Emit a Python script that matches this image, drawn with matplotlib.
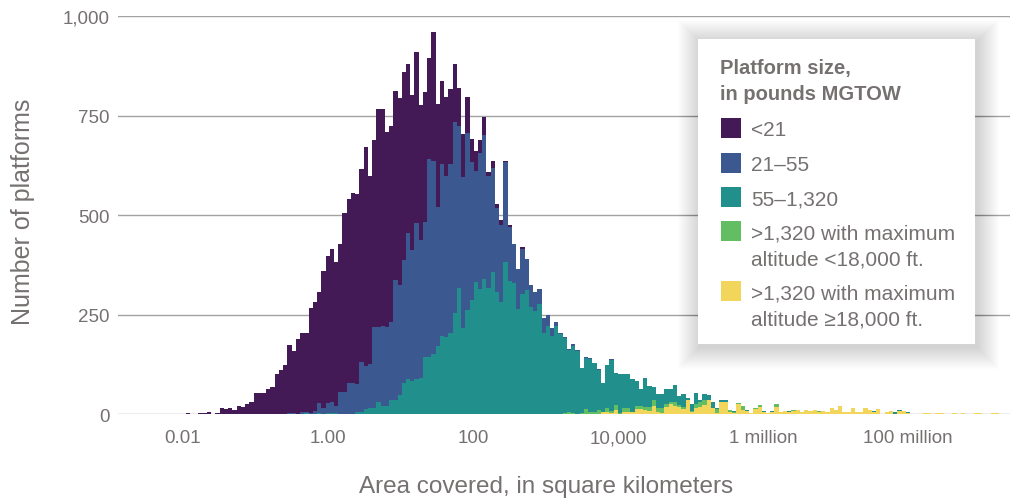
import numpy as np
import matplotlib.pyplot as plt
from matplotlib.patches import Rectangle

W, H = 1035, 502
plt.rcParams['font.family'] = ['Liberation Sans', 'DejaVu Sans']

# histogram bins, in log10 of square kilometers
N_BINS = 200
LOG_LO, LOG_HI = -2.43, 9.255

# counts per bin for each weight class, each list starts at its *_START bin
PURPLE_START = 0
purple = [1, 1, 0, 1, 1, 0, 0, 1, 3, 1,
          1, 3, 3, 5, 1, 3, 15, 13, 15, 10,
          20, 18, 24, 29, 54, 53, 54, 63, 68, 100,
          109, 123, 171, 157, 188, 200, 197, 265, 275, 279,
          345, 369, 386, 362, 371, 449, 462, 477, 478, 485,
          551, 473, 470, 548, 544, 490, 493, 475, 469, 473,
          425, 389, 430, 338, 326, 253, 324, 258, 209, 197,
          189, 145, 96, 107, 90, 59, 49, 32, 45, 9,
          18, 10, 11, 4, 4, 0, 0, 4, 0]

BLUE_START = 30
blue = [1, 0, 2, 1, 0, 3, 4, 1, 6, 25,
        14, 25, 27, 19, 55, 55, 77, 77, 71, 127,
        108, 110, 202, 189, 201, 199, 196, 303, 277, 309,
        366, 330, 392, 348, 341, 499, 484, 349, 431, 406,
        424, 480, 407, 380, 445, 346, 280, 342, 362, 283,
        262, 211, 195, 251, 138, 99, 100, 113, 77, 56,
        46, 38, 36, 30, 20, 10, 3, 4, 2, 3,
        2, 1, 1, 2, 1, 1, 0, 1, 1, 0,
        1, 1, 0, 1, 0, 1, 1, 0, 1, 0,
        0, 1, 0, 1, 0, 1]

TEAL_START = 30
teal = [0, 1, 0, 1, 0, 1, 2, 1, 1, 2,
        1, 2, 2, 2, 1, 1, 1, 1, 4, 4,
        13, 16, 16, 29, 21, 19, 34, 34, 48, 78,
        88, 82, 88, 90, 142, 142, 152, 172, 197, 193,
        204, 254, 316, 216, 261, 286, 331, 314, 339, 316,
        356, 307, 281, 381, 333, 328, 264, 302, 312, 268,
        260, 276, 204, 220, 197, 220, 200, 188, 157, 170,
        158, 113, 128, 134, 122, 101, 74, 109, 128, 80,
        97, 86, 86, 82, 62, 42, 72, 53, 32, 36,
        36, 38, 32, 42, 21, 32, 6, 17, 28, 7,
        16, 14, 17, 2, 6, 6, 0, 3, 0, 1,
        1, 0, 1, 0, 1, 0, 1, 0, 1, 0,
        1, 0, 0, 1, 0, 0, 1, 0, 0, 1,
        0, 0, 1, 0, 0, 1, 0, 0, 1, 0,
        1, 0, 0, 1, 0, 3, 2, 0, 1, 0]

GREEN_START = 96
green = [1, 2, 4, 2,
         1, 2, 13, 4, 6, 9, 0, 8, 6, 12,
         3, 10, 10, 0, 8, 8, 7, 10, 14, 10,
         12, 8, 6, 10, 6, 5, 0, 2, 10, 12,
         11, 0, 0, 11, 0, 0, 4, 1, 2, 9,
         0, 0, 2, 6, 0, 0, 0, 6, 0, 0,
         0, 1, 0, 0, 0, 0, 0, 1, 0, 0,
         0, 0, 0, 0, 0, 0, 0, 0, 0, 0,
         0, 0, 0, 0, 0, 0, 0, 0, 0, 1,
         1, 1, 0, 0, 1, 0, 0, 1, 1, 0,
         1, 0, 1, 1, 0, 0, 1, 1, 0, 0]

YELLOW_START = 96
yellow = [0, 0, 0, 0,
          0, 0, 0, 0, 0, 1, 4, 6, 2, 11,
          0, 4, 4, 6, 13, 13, 11, 8, 21, 4,
          2, 17, 25, 21, 17, 13, 34, 6, 15, 17,
          23, 34, 14, 2, 29, 29, 6, 3, 25, 10,
          8, 3, 12, 17, 6, 3, 6, 18, 4, 8,
          6, 8, 10, 4, 10, 8, 10, 6, 8, 4,
          14, 10, 19, 6, 4, 15, 6, 6, 15, 10,
          6, 13, 1, 4, 8, 1, 8, 8, 3, 0,
          0, 0, 3, 3, 0, 3, 3, 0, 0, 3,
          0, 3, 0, 0, 3, 3, 0, 0, 3, 3]

labels = ['<21', '21\u201355', '55\u20131,320',
          '>1,320 with maximum\naltitude <18,000 ft.',
          '>1,320 with maximum\naltitude \u226518,000 ft.']
colors = ['#441a56', '#3c5891', '#21908c', '#63bd62', '#f2d65c']

xtick_vals = [1e-2, 1, 1e2, 1e4, 1e6, 1e8]
xtick_labels = ['0.01', '1.00', '100', '10,000', '1 million', '100 million']
ytick_vals = [0, 250, 500, 750, 1000]

TXT = '#767171'
GRID = '#a2a2a2'


def full(vals, start):
    arr = np.zeros(N_BINS)
    arr[start:start + len(vals)] = vals
    return arr


edges = 10 ** np.linspace(LOG_LO, LOG_HI, N_BINS + 1)

# stacked bottom to top: yellow, green, teal, blue, purple
stack = [full(yellow, YELLOW_START), full(green, GREEN_START),
         full(teal, TEAL_START), full(blue, BLUE_START),
         full(purple, PURPLE_START)]
stack_colors = colors[::-1]

fig = plt.figure(figsize=(W / 100, H / 100), dpi=100)
ax = fig.add_axes([118 / W, 1 - 415 / H, (1010 - 118) / W, (415 - 17) / H])

base = np.zeros(N_BINS)
for vals, c in zip(stack, stack_colors):
    top = base + vals
    ax.stairs(top, edges, baseline=base, fill=True, color=c, linewidth=0, zorder=2)
    base = top

ax.set_xscale('log')
ax.set_xlim(10 ** -2.897, 10 ** 9.407)
ax.set_ylim(0, 1000)
ax.set_xticks(xtick_vals)
ax.set_xticklabels(xtick_labels)
ax.xaxis.set_minor_locator(plt.NullLocator())
ax.set_yticks(ytick_vals)
ax.set_yticklabels([f'{v:,}' for v in ytick_vals])
ax.tick_params(axis='both', length=0, labelsize=13.5, colors=TXT)
ax.tick_params(axis='y', pad=6)
ax.tick_params(axis='x', pad=11)
ax.yaxis.grid(True, color=GRID, linewidth=1.0)
ax.set_axisbelow(True)
for s in ax.spines.values():
    s.set_visible(False)

fig.text(546 / W, 1 - 487 / H, 'Area covered, in square kilometers',
         ha='center', va='center', fontsize=17.5, color=TXT)
fig.text(23 / W, 1 - 212 / H, 'Number of platforms', rotation=90,
         ha='center', va='center', fontsize=18, color=TXT)


# legend box with soft shadow, laid out in pixels
def fx(x):
    return x / W


def fy(y):
    return 1 - y / H


bx0, by0, bx1, by1 = 698, 40, 975, 345
for k in range(22, 0, -1):
    fig.patches.append(Rectangle((fx(bx0 - k + 2), fy(by1 + k + 3)),
                                 (bx1 - bx0 + 2 * k) / W, (by1 - by0 + 2 * k) / H,
                                 transform=fig.transFigure, facecolor='black',
                                 edgecolor='none', alpha=0.007, zorder=5))
fig.patches.append(Rectangle((fx(bx0), fy(by1)), (bx1 - bx0) / W, (by1 - by0) / H,
                             transform=fig.transFigure, facecolor='white',
                             edgecolor='none', zorder=6))

fig.text(fx(720), fy(74), 'Platform size,', fontsize=14.5, fontweight='bold',
         color=TXT, va='baseline', ha='left', zorder=7)
fig.text(fx(720), fy(100), 'in pounds MGTOW', fontsize=14.5, fontweight='bold',
         color=TXT, va='baseline', ha='left', zorder=7)

sq_tops = [119, 154, 188, 222, 282]
for lab, c, t in zip(labels, colors, sq_tops):
    fig.patches.append(Rectangle((fx(721), fy(t + 20)), 20 / W, 20 / H,
                                 transform=fig.transFigure, facecolor=c,
                                 edgecolor='none', zorder=7))
    for j, line in enumerate(lab.split('\n')):
        fig.text(fx(751), fy(t + 17.5 + 26 * j), line, fontsize=15, color=TXT,
                 va='baseline', ha='left', zorder=7)

fig.savefig('out.png', dpi=100)
